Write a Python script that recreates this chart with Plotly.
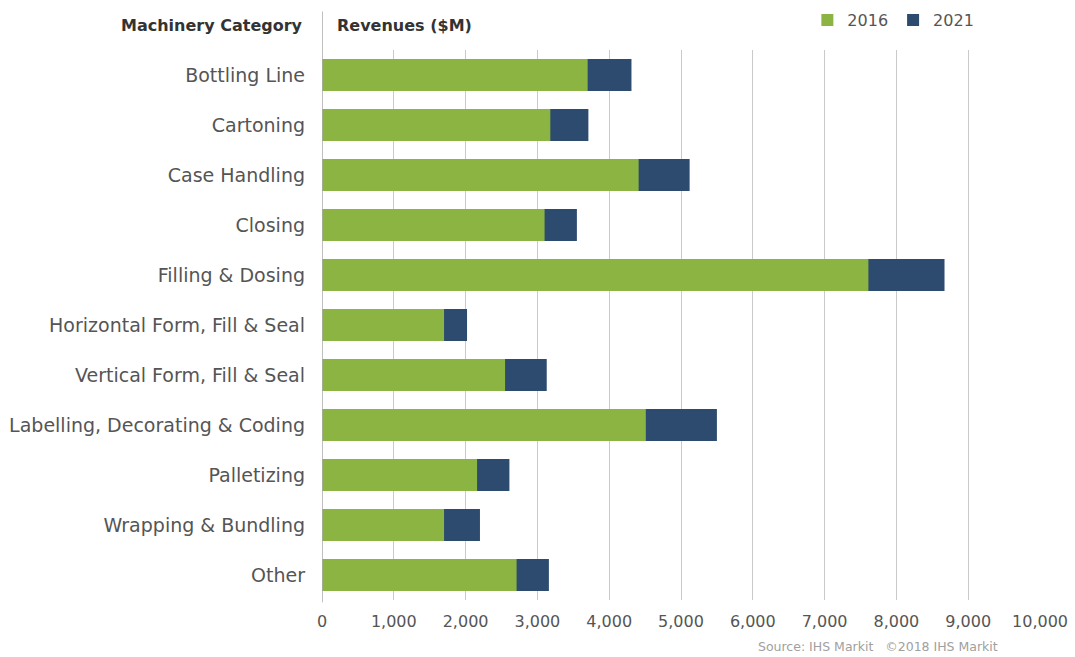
import plotly.graph_objects as go

categories = [
    "Bottling Line",
    "Cartoning",
    "Case Handling",
    "Closing",
    "Filling & Dosing",
    "Horizontal Form, Fill & Seal",
    "Vertical Form, Fill & Seal",
    "Labelling, Decorating & Coding",
    "Palletizing",
    "Wrapping & Bundling",
    "Other",
]
rev_2016 = [3700, 3180, 4410, 3100, 7610, 1700, 2550, 4510, 2160, 1700, 2710]
rev_2021 = [4310, 3710, 5120, 3550, 8670, 2020, 3130, 5500, 2610, 2200, 3160]
tick_vals = [0, 1000, 2000, 3000, 4000, 5000, 6000, 7000, 8000, 9000, 10000]
tick_text = ["0", "1,000", "2,000", "3,000", "4,000", "5,000", "6,000",
             "7,000", "8,000", "9,000", "10,000"]

GREEN = "#8cb443"
NAVY = "#2d4a6f"
FONT = "DejaVu Sans"

fig = go.Figure()
# 2021 totals sit behind the 2016 bars so the growth shows as the navy tail
fig.add_trace(go.Bar(
    y=categories, x=rev_2021, orientation="h", name="2021",
    marker=dict(color=NAVY, line=dict(width=0)), width=0.64, legendrank=2,
))
fig.add_trace(go.Bar(
    y=categories, x=rev_2016, orientation="h", name="2016",
    marker=dict(color=GREEN, line=dict(width=0)), width=0.64, legendrank=1,
))

fig.update_layout(
    width=1075, height=657,
    margin=dict(l=322, r=35, t=50, b=57, autoexpand=False),
    paper_bgcolor="white", plot_bgcolor="white",
    barmode="overlay",
    font=dict(family=FONT, color="#555555", size=17),
    legend=dict(
        orientation="h", x=0.676, y=1.0545, xanchor="left", yanchor="middle",
        font=dict(size=16, color="#555555"), itemwidth=30,
        bgcolor="rgba(0,0,0,0)",
    ),
    xaxis=dict(
        range=[0, 10000], tickvals=tick_vals, ticktext=tick_text,
        showgrid=True, gridcolor="#cacaca", gridwidth=1,
        zeroline=False, showline=False, ticks="",
        tickfont=dict(size=16, color="#555555"), ticklabelstandoff=10,
    ),
    yaxis=dict(
        autorange="reversed", showgrid=False, zeroline=False,
        showline=False, ticks="", ticklabelstandoff=16,
        tickfont=dict(size=19, color="#555555"),
    ),
    shapes=[
        dict(type="line", xref="x", yref="paper", x0=0, x1=0, y0=-0.004, y1=1.07,
             line=dict(color="#aaaaaa", width=1.5)),
    ],
    annotations=[
        dict(text="<b>Machinery Category</b>", xref="paper", yref="paper",
             x=-0.0235, y=1.045, xanchor="right", yanchor="middle", showarrow=False,
             font=dict(size=16, color="#333333")),
        dict(text="<b>Revenues ($M)</b>", xref="paper", yref="paper",
             x=0.018, y=1.045, xanchor="left", yanchor="middle", showarrow=False,
             font=dict(size=16, color="#333333")),
        dict(text="Source: IHS Markit   ©2018 IHS Markit", xref="paper", yref="paper",
             x=0.944, y=-0.085, xanchor="right", yanchor="middle", showarrow=False,
             font=dict(size=12.5, color="#a0a0a0")),
    ],
)

fig.write_html("out.html")
